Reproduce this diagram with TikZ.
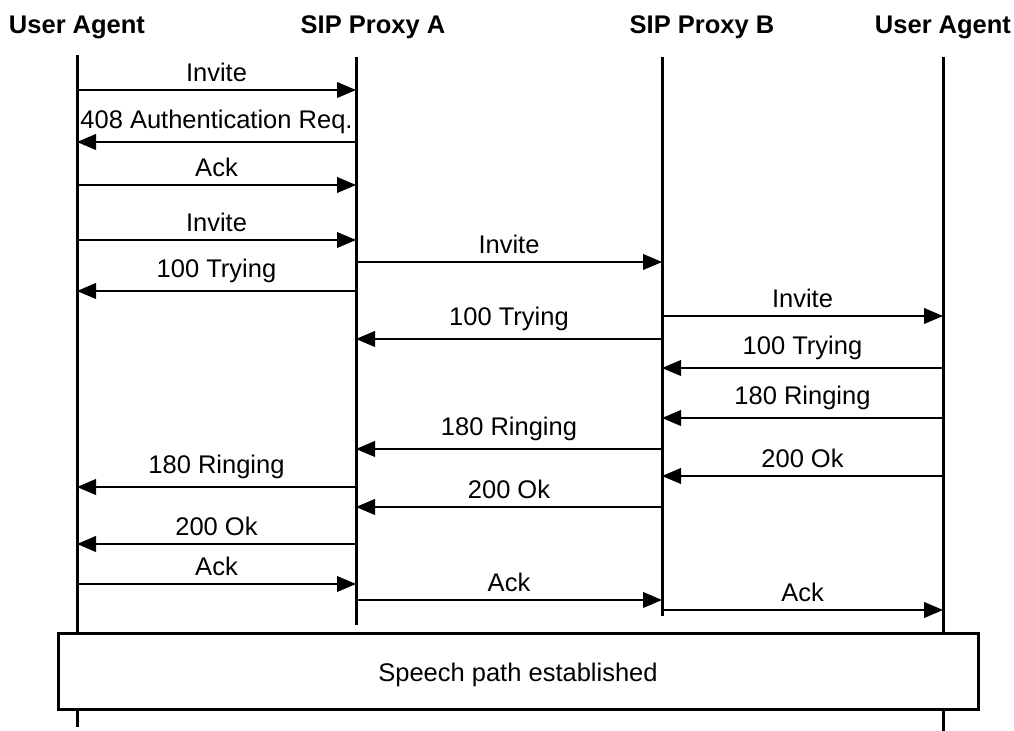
\documentclass[tikz,border=0pt]{standalone}
\usepackage{fontspec}
\setmainfont{Liberation Sans}
\usepackage{tikz}
\usetikzlibrary{arrows}
\tikzstyle{msg} = [draw, line width=1.2pt, -triangle 45]
\tikzstyle{life} = [draw, line width=1.5pt]
\tikzstyle{head} = [font=\fontsize{12.75}{15}\selectfont\bfseries]

\begin{document}
\begin{tikzpicture} [x=0.5pt,y=-0.5pt,every node/.style={font=\fontsize{12.75}{15}\selectfont}]

		\useasboundingbox (0,0) rectangle (1014,731);

		\node [head] (uahead) at (77,27) {User Agent};
		\node [head] (pahead) at (373,27) {SIP Proxy A};
		\node [head] (pbhead) at (702,27) {SIP Proxy B};
		\node [head] (ubhead) at (943,27) {User Agent};

		\coordinate (ua) at (77,55);
		\coordinate (pa) at (356,57);
		\coordinate (pb) at (662,57);
		\coordinate (ub) at (943,57);

		\node [draw, line width=1.5pt, minimum width=460pt, minimum height=38pt, text depth=0pt] (speech) at (518,672) {Speech path established};

		\draw [life] (ua) -- (ua |- speech.north);
		\draw [life] (ua |- speech.south) -- (ua |- 0,727);
		\draw [life] (pa) -- (pa |- 0,625);
		\draw [life] (pb) -- (pb |- 0,616);
		\draw [life] (ub) -- (ub |- speech.north);
		\draw [life] (ub |- speech.south) -- (ub |- 0,731);

		\foreach \f/\t/\y/\txt in {ua/pa/90/Invite, pa/ua/142/408 Authentication Req., ua/pa/185/Ack,
				ua/pa/240/Invite, pa/pb/262/Invite, pa/ua/291/100 Trying, pb/ub/316/Invite,
				pb/pa/339/100 Trying, ub/pb/368/100 Trying, ub/pb/418/180 Ringing,
				pb/pa/449/180 Ringing, ub/pb/476/200 Ok, pa/ua/487/180 Ringing, pb/pa/507/200 Ok,
				pa/ua/544/200 Ok, ua/pa/584/Ack, pa/pb/600/Ack, pb/ub/610/Ack}
			\draw [msg] (\f |- 0,\y) -- node [above] {\txt} (\t |- 0,\y);

\end{tikzpicture}
\end{document}
